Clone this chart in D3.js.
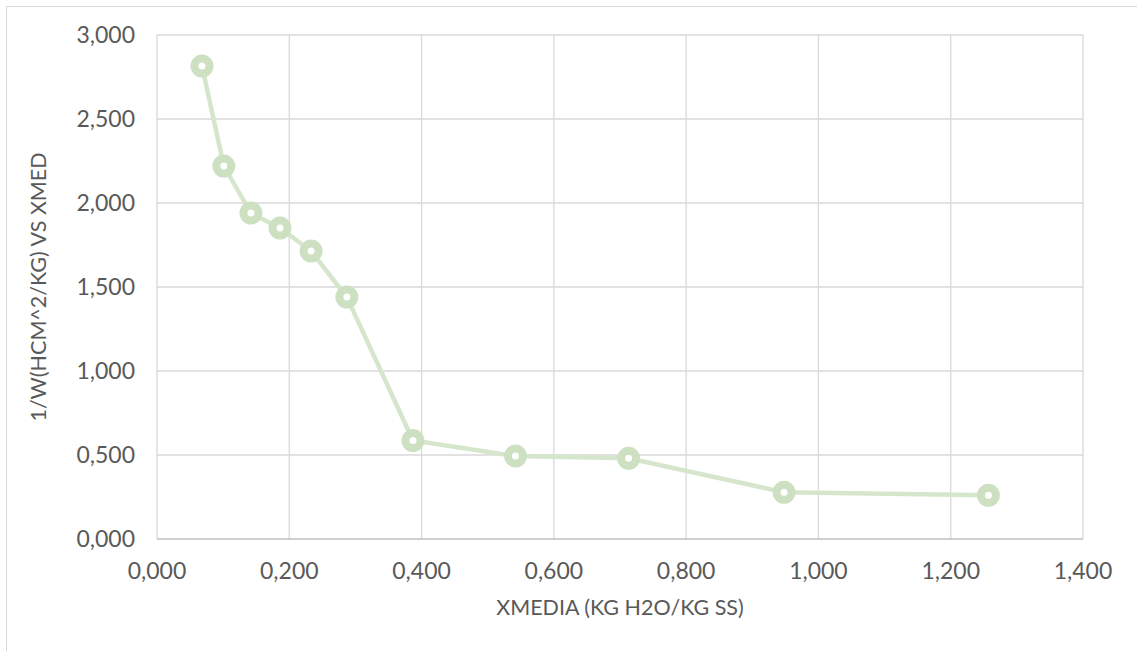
<!DOCTYPE html>
<html>
<head>
<meta charset="utf-8">
<script src="https://cdn.jsdelivr.net/npm/d3@7/dist/d3.min.js"></script>
<style>
  body { margin: 0; background: #fff; }
  svg { display: block; font-family: Lato, "Open Sans", sans-serif; }
</style>
</head>
<body>
<svg id="chart" width="1137" height="651"></svg>
<script>
// values
var xmedia = [0.068, 0.101, 0.142, 0.186, 0.233, 0.287, 0.387, 0.542, 0.713, 0.948, 1.257];
var invW = [2815, 2220, 1940, 1851, 1714, 1440, 586, 494, 480, 278, 260];
var xTicks = [0, 0.2, 0.4, 0.6, 0.8, 1.0, 1.2, 1.4];
var yTicks = [0, 500, 1000, 1500, 2000, 2500, 3000];
var xTitle = "XMEDIA (KG H2O/KG SS)";
var yTitle = "1/W(HCM^2/KG) VS XMED";

var svg = d3.select("#chart");
var m = {left: 157, top: 35, right: 1083, bottom: 539};

var x = d3.scaleLinear().domain([0, 1.4]).range([m.left, m.right]);
var y = d3.scaleLinear().domain([0, 3000]).range([m.bottom, m.top]);

// comma decimal, 3 digits
var fmt = v => v.toFixed(3).replace(".", ",");

// outer chart frame
svg.append("rect")
  .attr("x", 6.5).attr("y", 6.5)
  .attr("width", 1200).attr("height", 700)
  .attr("fill", "none").attr("stroke", "#d9d9d9").attr("stroke-width", 1);

// gridlines
svg.append("g").selectAll("line")
  .data(yTicks.slice(1))
  .enter().append("line")
  .attr("x1", m.left).attr("x2", m.right)
  .attr("y1", d => y(d)).attr("y2", d => y(d))
  .attr("stroke", "#d9d9d9").attr("stroke-width", 1.3);

svg.append("g").selectAll("line")
  .data(xTicks)
  .enter().append("line")
  .attr("x1", d => x(d)).attr("x2", d => x(d))
  .attr("y1", m.top).attr("y2", m.bottom)
  .attr("stroke", "#d9d9d9").attr("stroke-width", 1.3);

// bottom axis line
svg.append("line")
  .attr("x1", m.left).attr("x2", m.right)
  .attr("y1", m.bottom).attr("y2", m.bottom)
  .attr("stroke", "#bfbfbf").attr("stroke-width", 1.5);

// tick labels
svg.append("g").selectAll("text")
  .data(yTicks)
  .enter().append("text")
  .attr("x", 135).attr("y", d => y(d))
  .attr("dy", "0.35em")
  .attr("text-anchor", "end")
  .attr("fill", "#595959").attr("font-size", 23)
  .text(d => fmt(d / 1000));

svg.append("g").selectAll("text")
  .data(xTicks)
  .enter().append("text")
  .attr("x", d => x(d)).attr("y", 571)
  .attr("dy", "0.35em")
  .attr("text-anchor", "middle")
  .attr("fill", "#595959").attr("font-size", 23)
  .text(d => fmt(d));

// axis titles
svg.append("text")
  .attr("x", (m.left + m.right) / 2).attr("y", 607)
  .attr("dy", "0.35em")
  .attr("text-anchor", "middle")
  .attr("fill", "#595959").attr("font-size", 21.5)
  .text(xTitle);

svg.append("text")
  .attr("transform", "translate(38," + (m.top + m.bottom) / 2 + ") rotate(-90)")
  .attr("dy", "0.35em")
  .attr("text-anchor", "middle")
  .attr("fill", "#595959").attr("font-size", 21.5)
  .text(yTitle);

// series
var pts = xmedia.map((d, i) => [d, invW[i]]);
var line = d3.line().x(d => x(d[0])).y(d => y(d[1]));

svg.append("path")
  .datum(pts)
  .attr("d", line)
  .attr("fill", "none")
  .attr("stroke", "#d5e6cc").attr("stroke-width", 4.5);

svg.append("g").selectAll("circle")
  .data(pts)
  .enter().append("circle")
  .attr("cx", d => x(d[0])).attr("cy", d => y(d[1]))
  .attr("r", 7.5)
  .attr("fill", "#fff")
  .attr("stroke", "#cde1c2").attr("stroke-width", 8);
</script>
</body>
</html>
